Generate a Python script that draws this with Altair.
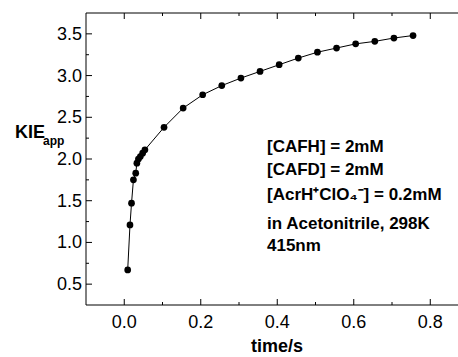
import altair as alt
import pandas as pd

# ---- data ----
time_s = [0.009, 0.015, 0.019, 0.024, 0.030, 0.033, 0.037, 0.042, 0.048, 0.054,
          0.104, 0.154, 0.205, 0.255, 0.305, 0.355, 0.405, 0.455, 0.505, 0.555,
          0.605, 0.655, 0.705, 0.755]
kie_app = [0.67, 1.21, 1.47, 1.75, 1.83, 1.95, 2.00, 2.03, 2.07, 2.11,
           2.38, 2.61, 2.77, 2.88, 2.97, 3.05, 3.13, 3.21, 3.28, 3.33,
           3.38, 3.41, 3.45, 3.48]

x_major = [0.0, 0.2, 0.4, 0.6, 0.8]
x_minor = [0.1, 0.3, 0.5, 0.7]
y_major = [0.5, 1.0, 1.5, 2.0, 2.5, 3.0, 3.5]
y_minor = [0.75, 1.25, 1.75, 2.25, 2.75, 3.25]

notes = ["[CAFH] = 2mM", "[CAFD] = 2mM", "[AcrH\u207AClO\u2084\u207B] = 0.2mM",
         "in Acetonitrile, 298K", "415nm"]

# ---- layout / style ----
W, H = 372, 292
FONT = "Liberation Sans"
xscale = alt.Scale(domain=[-0.1, 0.8725], nice=False, zero=False)
yscale = alt.Scale(domain=[0.25, 3.75], nice=False, zero=False)

df = pd.DataFrame({"time": time_s, "kie": kie_app})
one = alt.Data(values=[{"k": 0}])

base = alt.Chart(df)
line = base.mark_line(color="black", strokeWidth=1).encode(
    x=alt.X("time:Q", scale=xscale, axis=None),
    y=alt.Y("kie:Q", scale=yscale, axis=None),
)
pts = base.mark_circle(size=45, color="black", opacity=1).encode(
    x=alt.X("time:Q", scale=xscale, axis=None),
    y=alt.Y("kie:Q", scale=yscale, axis=None),
)


def hrule(y):
    # frame line running off the right edge of the picture, as in the reference
    return alt.Chart(one).mark_rule(color="black", strokeWidth=1).encode(
        x=alt.value(0), x2=alt.value(W + 40), y=alt.value(y))


left_border = alt.Chart(one).mark_rule(color="black", strokeWidth=1).encode(
    x=alt.value(0), y=alt.value(0), y2=alt.value(H))


def xticks(vals, length):
    d = pd.DataFrame({"time": vals})
    bottom = alt.Chart(d).mark_rule(color="black", strokeWidth=1).encode(
        x=alt.X("time:Q", scale=xscale, axis=None), y=alt.value(H), y2=alt.value(H - length))
    top = alt.Chart(d).mark_rule(color="black", strokeWidth=1).encode(
        x=alt.X("time:Q", scale=xscale, axis=None), y=alt.value(0), y2=alt.value(length))
    return [bottom, top]


def yticks(vals, length):
    d = pd.DataFrame({"kie": vals})
    return [alt.Chart(d).mark_rule(color="black", strokeWidth=1).encode(
        y=alt.Y("kie:Q", scale=yscale, axis=None), x=alt.value(0), x2=alt.value(length))]


xlabels = alt.Chart(pd.DataFrame({"time": x_major})).mark_text(
    font=FONT, fontSize=18, align="center", baseline="alphabetic", color="black").encode(
    x=alt.X("time:Q", scale=xscale, axis=None), y=alt.value(H + 23),
    text=alt.Text("time:Q", format=".1f"))
ylabels = alt.Chart(pd.DataFrame({"kie": y_major})).mark_text(
    font=FONT, fontSize=18, align="right", baseline="middle", color="black", dy=1).encode(
    y=alt.Y("kie:Q", scale=yscale, axis=None), x=alt.value(-4),
    text=alt.Text("kie:Q", format=".1f"))


def label(txt, x, y, size, bold=True, align="left"):
    return alt.Chart(one).mark_text(
        text=txt, font=FONT, fontSize=size, fontWeight="bold" if bold else "normal",
        align=align, baseline="alphabetic", color="black").encode(
        x=alt.value(x), y=alt.value(y))


note_y = [139, 162, 187, 216, 238]
note_layers = [label(t, 181, y, 17) for t, y in zip(notes, note_y)]

xtitle = label("time/s", 191, 339, 18, align="center")
ytitle = label("KIE", -71, 125, 18)
ysub = label("app", -43, 132, 12)

layers = [line, pts, hrule(0), hrule(H), left_border] \
    + xticks(x_major, 6) + xticks(x_minor, 3) + yticks(y_major, 6) + yticks(y_minor, 3) \
    + [xlabels, ylabels] + note_layers + [xtitle, ytitle, ysub]

chart = alt.layer(*layers).properties(
    width=W, height=H, autosize="none",
    padding={"left": 86, "top": 13, "right": 0, "bottom": 52},
    background="white",
).configure_view(stroke=None)

chart.save("out.html", embed_options={"renderer": "svg", "actions": False})
